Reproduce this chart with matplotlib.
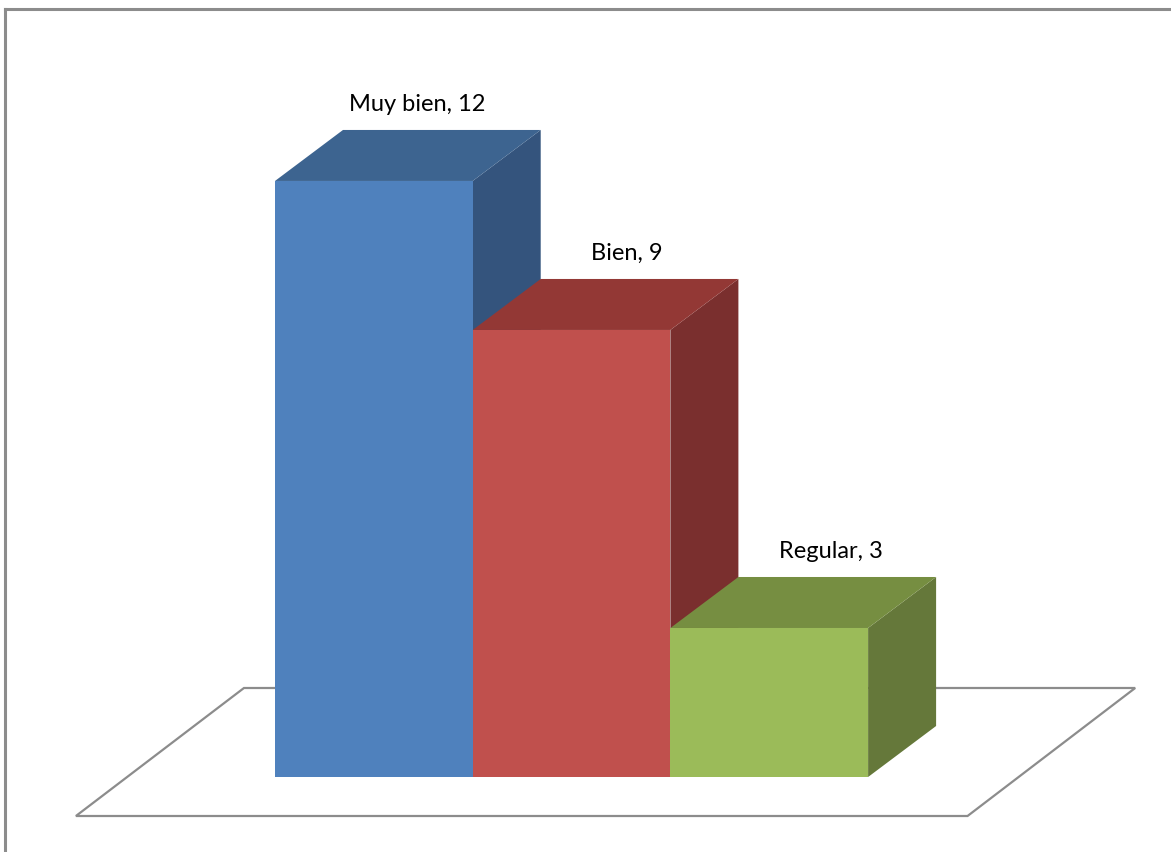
import matplotlib
matplotlib.use("Agg")
import matplotlib.pyplot as plt
from matplotlib.patches import Polygon
from matplotlib.lines import Line2D

# --- data ---
categories = ["Muy bien", "Bien", "Regular"]
values = [12, 9, 3]

# face colours: front, top, side
front_colors = ["#4F81BD", "#C0504D", "#9BBB59"]
top_colors = ["#3D6490", "#933835", "#768E41"]
side_colors = ["#34547D", "#7A2F2E", "#65783A"]

# --- geometry of the fake 3D view ---
W, H = 1171, 852
PX_PER_VAL = 49.67          # vertical pixels per unit
PX_PER_CAT = 197.7          # horizontal pixels per bar
X0_PX, Y0_PX = 275, 777     # front-left corner of first bar, baseline

DX = 68 / PX_PER_CAT        # depth offset, x (category units)
DZ = 51 / PX_PER_VAL        # depth offset, y (value units)
label_nudge = [0.22, 0.28, 0.31]

fig = plt.figure(figsize=(W / 100, H / 100), dpi=100)
ax = fig.add_axes([0, 0, 1, 1])
ax.set_xlim(-X0_PX / PX_PER_CAT, (W - X0_PX) / PX_PER_CAT)
ax.set_ylim((Y0_PX - H) / PX_PER_VAL, Y0_PX / PX_PER_VAL)
ax.axis("off")

# floor plate
fy0 = -39 / PX_PER_VAL
fy1 = 89 / PX_PER_VAL
floor = Polygon([(-1.007, fy0), (3.503, fy0), (4.351, fy1), (-0.157, fy1)],
                closed=True, facecolor="white", edgecolor="#8C8C8C", lw=1.6,
                zorder=1)
ax.add_patch(floor)

# bars left to right: each bar's top/front hides the previous bar's side face
for i, v in enumerate(values):
    x0, x1 = i, i + 1
    z = 2 + 3 * i
    side = Polygon([(x1, 0), (x1 + DX, DZ), (x1 + DX, v + DZ), (x1, v)],
                   facecolor=side_colors[i], edgecolor="none", zorder=z)
    top = Polygon([(x0, v), (x1, v), (x1 + DX, v + DZ), (x0 + DX, v + DZ)],
                  facecolor=top_colors[i], edgecolor="none", zorder=z + 1)
    front = Polygon([(x0, 0), (x1, 0), (x1, v), (x0, v)],
                    facecolor=front_colors[i], edgecolor="none", zorder=z + 2)
    for p in (side, top, front):
        ax.add_patch(p)
    ax.text(i + 0.5 + label_nudge[i], v + DZ + 0.52, f"{categories[i]}, {v}",
            ha="center", va="center", fontsize=17, family="Lato",
            color="black", zorder=20)

# chart frame (top and left edges)
fig.add_artist(Line2D([5.5 / W, 5.5 / W], [0, 1 - 9 / H],
                      transform=fig.transFigure, color="#8C8C8C", lw=2.2))
fig.add_artist(Line2D([5.5 / W, 1], [1 - 9 / H, 1 - 9 / H],
                      transform=fig.transFigure, color="#8C8C8C", lw=2.2))

fig.savefig("out.png", dpi=100)
